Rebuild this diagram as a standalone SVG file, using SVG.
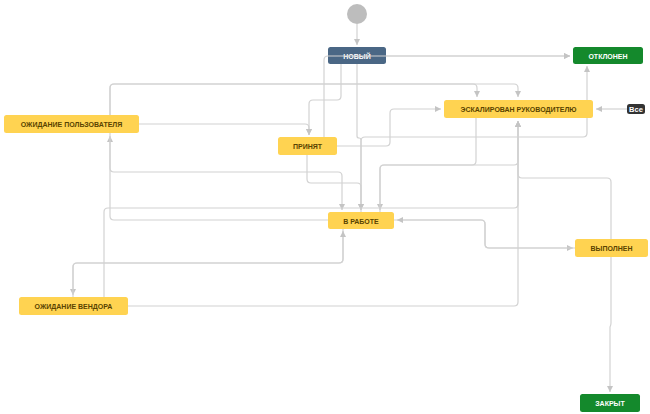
<svg xmlns="http://www.w3.org/2000/svg" width="650" height="414" viewBox="0 0 650 414">
<style>
.c{fill:none;stroke:#d2d2d2;stroke-width:1.2;marker-end:url(#ah)}
.n rect{rx:2.5;ry:2.5}
.y rect{fill:#ffd351}
.b rect{fill:#4a6785}
.g rect{fill:#14892c}
.n text{font-family:"Liberation Sans",Arial,sans-serif;font-size:7px;font-weight:bold;text-anchor:middle;dominant-baseline:central}
.y text{fill:#594300}
.b text,.g text{fill:#fff}
</style>
<defs>
<marker id="ah" markerWidth="7" markerHeight="7" refX="6" refY="3" orient="auto" markerUnits="userSpaceOnUse">
<path d="M0,0 L6,3 L0,6 z" fill="#c4c4c4"/>
</marker>
</defs>
<rect width="650" height="414" fill="#fff"/>
<g id="connectors">
<path class="c" d="M357,24 V45"/>
<path class="c" d="M386,56 H570"/>
<path class="c" d="M341,64 V96 Q341,100 337,100 H313 Q309,100 309,104 V135"/>
<path class="c" d="M139,124 H305 Q309,124 309,128 V135"/>
<path class="c" d="M357,64 V136 Q357,138 359,138 Q361,138 361,140 V210"/>
<path class="c" d="M361,212 V141 Q361,137 365,137 H583 Q587,137 587,133 V66"/>
<path class="c" d="M110,115 V88 Q110,84 114,84 H473 Q477,84 477,88 V97"/>
<path class="c" d="M110,115 V88 Q110,84 114,84 H514 Q518,84 518,88 V97"/>
<path class="c" d="M337,146 H386 Q390,146 390,142 V113 Q390,109 394,109 H441"/>
<path class="c" d="M627,109 H596"/>
<path class="c" d="M328,220 H114 Q110,220 110,216 V136"/>
<path class="c" d="M110,133 V168 Q110,172 114,172 H338 Q342,172 342,176 V210"/>
<path class="c" d="M307,155 V179 Q307,183 311,183 H357 Q361,183 361,187 V210"/>
<path class="c" d="M476,118 V161 Q476,165 472,165 H384 Q380,165 380,169 V210"/>
<path class="c" d="M380,212 V169 Q380,165 384,165 H514 Q518,165 518,161 V121"/>
<path class="c" d="M611,239 V182 Q611,178 607,178 H522 Q518,178 518,174 V121"/>
<path class="c" d="M104,297 V212 Q104,208 108,208 H514 Q518,208 518,204 V121"/>
<path class="c" d="M128,306 H514 Q518,306 518,302 V121"/>
<path class="c" d="M343,229 V259 Q343,263 339,263 H77 Q73,263 73,267 V295"/>
<path class="c" d="M73,297 V267 Q73,263 77,263 H339 Q343,263 343,259 V231"/>
<path class="c" d="M394,220 H481 Q485,220 485,224 V244 Q485,248 489,248 H573"/>
<path class="c" d="M575,248 H489 Q485,248 485,244 V224 Q485,220 481,220 H397"/>
<path class="c" d="M611,257 V323 Q611,325 610,327 V392"/>
</g>
<g id="start"><circle cx="357" cy="14" r="10" fill="#bdbdbd"/></g>
<g id="node-new" class="n b"><rect x="328" y="47" width="58" height="17"/><text x="357" y="56">НОВЫЙ</text></g>
<g id="node-rejected" class="n g"><rect x="573" y="47" width="70" height="17"/><text x="608" y="56">ОТКЛОНЕН</text></g>
<g id="node-escalated" class="n y"><rect x="444" y="100" width="149" height="18"/><text x="518.5" y="109.5">ЭСКАЛИРОВАН РУКОВОДИТЕЛЮ</text></g>
<g id="node-all" class="n"><rect x="627" y="104" width="18" height="10" rx="1.5" fill="#333"/><text x="636" y="109.3" fill="#fff" style="font-size:7.5px">Все</text></g>
<g id="node-wait-user" class="n y"><rect x="4" y="115" width="135" height="18"/><text x="71.5" y="124.5">ОЖИДАНИЕ ПОЛЬЗОВАТЕЛЯ</text></g>
<g id="node-accepted" class="n y"><rect x="278" y="137" width="59" height="18"/><text x="307.5" y="146.5">ПРИНЯТ</text></g>
<g id="node-inwork" class="n y"><rect x="328" y="212" width="66" height="17"/><text x="361" y="221">В РАБОТЕ</text></g>
<g id="node-done" class="n y"><rect x="575" y="239" width="73" height="18"/><text x="611.5" y="248.5">ВЫПОЛНЕН</text></g>
<g id="node-wait-vendor" class="n y"><rect x="19" y="297" width="109" height="18"/><text x="73.5" y="306.5">ОЖИДАНИЕ ВЕНДОРА</text></g>
<g id="node-closed" class="n g"><rect x="580" y="394" width="60" height="18"/><text x="610" y="403.5">ЗАКРЫТ</text></g>
<g id="connectors-over">
<path class="c" d="M324,137 V60 Q324,56 328,56 H570"/>
</g>
</svg>
